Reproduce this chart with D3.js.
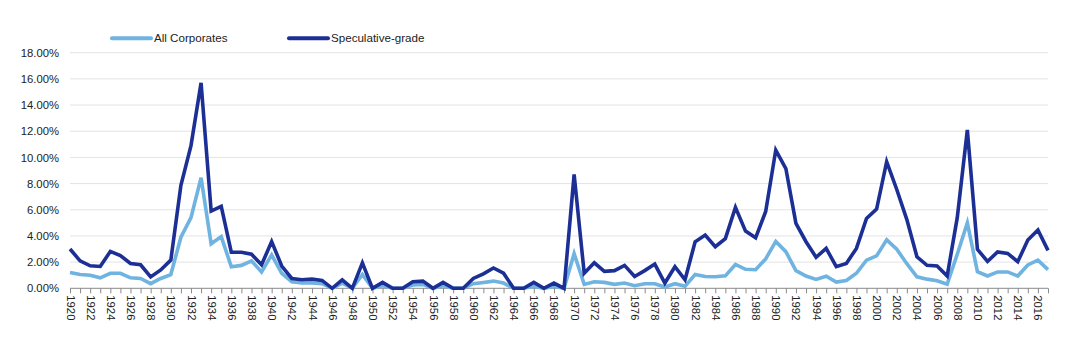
<!DOCTYPE html>
<html><head><meta charset="utf-8">
<script src="https://cdn.jsdelivr.net/npm/d3@7"></script>
<style>
html,body{margin:0;padding:0;background:#fff;}
svg{display:block;font-family:"Liberation Sans",Arial,Helvetica,sans-serif;}
</style></head>
<body><svg id="chart" width="1083" height="357"></svg>
<script>
const years = d3.range(1920, 2018);
const seriesNames = ["All Corporates", "Speculative-grade"];
const allCorporates = [
 1.2,1.05,1.0,0.8,1.15,1.15,0.8,0.75,0.35,0.75,
 1.05,3.9,5.4,8.45,3.4,3.95,1.65,1.75,2.1,1.25,
 2.55,1.15,0.5,0.4,0.4,0.35,0.0,0.4,0.0,1.05,
 0.0,0.2,0.0,0.0,0.25,0.3,0.0,0.2,0.0,0.0,
 0.35,0.45,0.55,0.4,0.0,0.0,0.15,0.0,0.15,0.0,
 2.65,0.3,0.5,0.45,0.3,0.4,0.2,0.35,0.35,0.1,
 0.35,0.15,1.05,0.9,0.88,0.95,1.82,1.45,1.42,2.25,
 3.58,2.8,1.35,0.94,0.68,0.92,0.48,0.6,1.15,2.15,
 2.48,3.7,2.98,1.88,0.88,0.7,0.58,0.32,2.6,5.0,
 1.27,0.94,1.25,1.25,0.94,1.78,2.15,1.43
];
const speculativeGrade = [
 3.0,2.1,1.72,1.67,2.82,2.5,1.9,1.8,0.87,1.4,
 2.15,7.87,10.9,15.7,5.9,6.26,2.75,2.75,2.6,1.8,
 3.57,1.7,0.75,0.65,0.7,0.6,0.0,0.65,0.0,1.95,
 0.0,0.45,0.0,0.0,0.5,0.55,0.0,0.45,0.0,0.0,
 0.75,1.1,1.55,1.15,0.0,0.0,0.45,0.0,0.4,0.0,
 8.7,1.15,1.95,1.3,1.35,1.75,0.9,1.35,1.85,0.4,
 1.65,0.65,3.55,4.07,3.18,3.8,6.18,4.37,3.86,5.87,
 10.56,9.15,4.96,3.56,2.37,3.05,1.65,1.9,3.05,5.34,
 6.05,9.67,7.55,5.25,2.41,1.76,1.7,0.94,5.4,12.1,
 2.98,2.05,2.78,2.67,2.03,3.69,4.45,2.9
];
const yTicks = [0,2,4,6,8,10,12,14,16,18];
const colors = ["#6fb3e0", "#1c2f95"];

const svg = d3.select("#chart");
const mLeft = 70, mRight = 1048, mTop = 52.7, mBottom = 288.3;

const x = d3.scalePoint().domain(years).range([mLeft, mRight]);
const y = d3.scaleLinear().domain([0, 18]).range([mBottom, mTop]);

// gridlines
svg.append("g").selectAll("line").data(yTicks.filter(d => d > 0)).join("line")
  .attr("x1", mLeft).attr("x2", mRight)
  .attr("y1", d => y(d)).attr("y2", d => y(d))
  .attr("stroke", "#e3e3e3").attr("stroke-width", 1);

// y axis labels
const yAxis = d3.axisLeft(y).tickValues(yTicks).tickSize(0).tickPadding(0)
  .tickFormat(d => d.toFixed(2) + "%");
const gy = svg.append("g").attr("transform", `translate(${mLeft - 11},0)`).call(yAxis);
gy.select(".domain").remove();
gy.selectAll("text").attr("font-size", 11.3).attr("fill", "#222")
  .attr("font-family", "Liberation Sans, Arial, sans-serif");

// x axis
const xAxis = d3.axisBottom(x).tickSize(5).tickFormat(d => (d - 1920) % 2 === 0 ? d : "");
const gx = svg.append("g").attr("transform", `translate(0,${mBottom})`).call(xAxis);
gx.select(".domain").attr("stroke", "#8a8a8a").attr("d", `M${mLeft},0H${mRight}`);
gx.selectAll(".tick line").attr("stroke", "#8a8a8a");
gx.selectAll("text")
  .attr("font-size", 11.3).attr("fill", "#222")
  .attr("font-family", "Liberation Sans, Arial, sans-serif")
  .attr("transform", "rotate(90)")
  .attr("text-anchor", "start")
  .attr("x", 7).attr("y", 0).attr("dy", "0.35em");

// lines
const line = d3.line().x((d, i) => x(years[i])).y(d => y(d));
[allCorporates, speculativeGrade].forEach((s, k) => {
  svg.append("path").datum(s)
    .attr("fill", "none").attr("stroke", colors[k]).attr("stroke-width", 3.6)
    .attr("stroke-linejoin", "miter").attr("stroke-miterlimit", 4)
    .attr("d", line);
});

// legend
const legendX = [112, 289];
seriesNames.forEach((n, k) => {
  const g = svg.append("g").attr("transform", `translate(${legendX[k]},38.3)`);
  g.append("line").attr("x1", 0).attr("x2", 39).attr("y1", 0).attr("y2", 0)
    .attr("stroke", colors[k]).attr("stroke-width", 4).attr("stroke-linecap", "round");
  g.append("text").attr("x", 42).attr("y", 0).attr("dy", "0.35em")
    .attr("font-size", 11.6).attr("fill", "#222").text(n);
});
</script></body></html>
